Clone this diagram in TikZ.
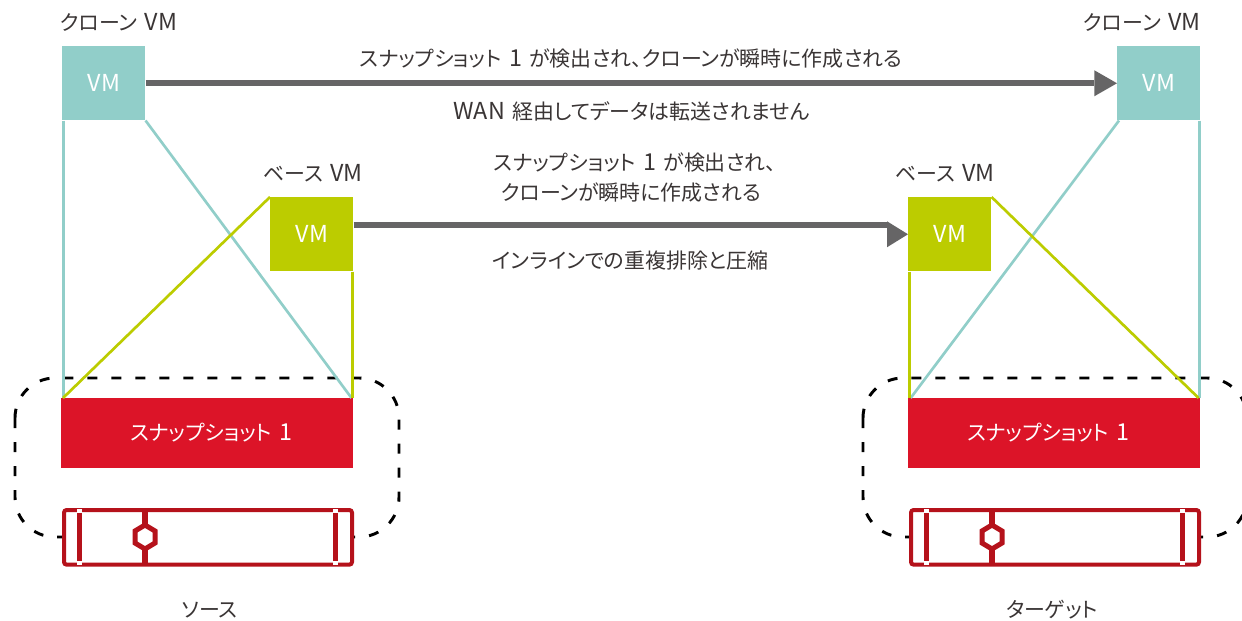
\documentclass[tikz,border=0pt]{standalone}
\usepackage{fontspec}
\setmainfont{Noto Sans CJK JP}[RawFeature=+palt]
\definecolor{teal}{HTML}{91CEC9}
\definecolor{lime}{HTML}{BCCC00}
\definecolor{snapred}{HTML}{DC1428}
\definecolor{darkred}{HTML}{B5121B}
\definecolor{arrowgray}{HTML}{666566}
\definecolor{ink}{HTML}{3A3535}
\newcommand{\lat}[1]{{\fontsize{17.5}{17.5}\selectfont #1}}
\newcommand{\sep}{\hspace{0.35em}}
\tikzset{
  label/.style={font=\fontsize{15.7}{15.7}\selectfont, text=ink, inner sep=0pt, align=center},
  vmbox/.style={minimum width=62.25pt, minimum height=55.5pt, inner sep=0pt, text=white, font=\fontsize{15.7}{15.7}\selectfont},
  snapbox/.style={fill=snapred, minimum width=219pt, minimum height=52pt, inner sep=0pt, text=white, font=\fontsize{15.7}{15.7}\selectfont},
  store/.style={draw=darkred, line width=3pt, fill=white, rounded corners=2pt, minimum width=216pt, minimum height=41pt, inner sep=0pt},
  tealline/.style={draw=teal, line width=2pt},
  limeline/.style={draw=lime, line width=2pt},
  shaft/.style={draw=arrowgray, line width=4.5pt},
  headtip/.style={fill=arrowgray},
  dashbox/.style={draw=black, line width=2.2pt, dash pattern=on 7.5pt off 10.5pt, rounded corners=30pt},
}
\newcommand{\storeicon}[1]{%
  \draw[darkred, line width=3.75pt] (#1.north west)++(17,2) -- ++(0,54);
  \draw[darkred, line width=3.75pt] (#1.north east)++(-19,2) -- ++(0,54);
  \draw[white, line width=3.75pt] (#1.north west)++(17,1) -- ++(0,4);
  \draw[white, line width=3.75pt] (#1.north west)++(17,53) -- ++(0,4);
  \draw[white, line width=3.75pt] (#1.north east)++(-19,1) -- ++(0,4);
  \draw[white, line width=3.75pt] (#1.north east)++(-19,53) -- ++(0,4);
  \draw[darkred, line width=4.5pt] (#1.north west)++(83,0) -- ++(0,58);
  \draw[darkred, line width=3.75pt, fill=white] (#1.north west)++(83,29)
    ++(0,-12) -- ++(10,6) -- ++(0,12) -- ++(-10,6) -- ++(-10,-6) -- ++(0,-12) -- cycle;
}
\begin{document}
\begin{tikzpicture}[x=0.75pt,y=-0.75pt]
\useasboundingbox (0,0) rectangle (1242,621);
% dashed frames
\draw[dashbox] (15,378) rectangle (399,537);
\draw[dashbox] (863,378) rectangle (1247,537);
% boxes
\node[vmbox, fill=teal, anchor=north west] (cl) at (62,46) {\lat{VM}};
\node[vmbox, fill=teal, anchor=north west] (cr) at (1117,46) {\lat{VM}};
\node[vmbox, fill=lime, anchor=north west] (bl) at (270,197) {\lat{VM}};
\node[vmbox, fill=lime, anchor=north west] (br) at (908,197) {\lat{VM}};
\node[snapbox, anchor=north west] (sl) at (61,398) {\hspace*{6pt}スナップショット\sep\lat{1}};
\node[snapbox, anchor=north west] (sr) at (908,398) {スナップショット\sep\lat{1}\hspace*{9pt}};
\node[store, anchor=north west] (dl) at (62,508) {};
\node[store, anchor=north west] (dr) at (909,508) {};
\storeicon{dl}
\storeicon{dr}
% fan lines
\draw[tealline] ([xshift=0.9pt]cl.south west) -- ([xshift=0.9pt]cl.south west |- sl.north);
\draw[tealline] (cl.south east) -- ([xshift=-1.5pt]sl.north east);
\draw[limeline] (bl.north west) -- ([xshift=1.5pt]sl.north west);
\draw[limeline] ([xshift=-1pt]bl.south east) -- ([xshift=-1pt]bl.south east |- sl.north);
\draw[tealline] ([xshift=-1pt]cr.south east) -- ([xshift=-1pt]cr.south east |- sr.north);
\draw[tealline] ([xshift=1.5pt]cr.south west) -- ([xshift=2pt]sr.north west);
\draw[limeline] ([xshift=1pt]br.south west) -- ([xshift=1pt]br.south west |- sr.north);
\draw[limeline] (br.north east) -- ([xshift=-1.5pt]sr.north east);
% arrows
\coordinate (ha) at ([xshift=-17pt]cr.west);
\draw[shaft] (cl.east) -- (ha);
\fill[headtip] (cr.west) -- ++(-17pt,-9.75pt) -- ++(0,19.5pt) -- cycle;
\coordinate (hb) at ([xshift=-15.75pt,yshift=6.75pt]br.west);
\coordinate (sb) at ([yshift=6.75pt]bl.east);
\draw[shaft] (sb) -- (hb);
\fill[headtip] (br.west) -- ++(-15.75pt,-9.75pt) -- ++(0,19.5pt) -- cycle;
% labels
\node[label] (t1) at (118.5,22) {クローン\sep\lat{VM}};
\node[label] (t2) at (1142,22) {クローン\sep\lat{VM}};
\node[label] (t3) at (313,173) {ベース\sep\lat{VM}};
\node[label] (t4) at (945,173) {ベース\sep\lat{VM}};
\node[label] (t5) at (631,59) {スナップショット\sep\lat{1}\sep が検出され、クローンが瞬時に作成される};
\node[label] (t6) at (631.5,111) {\lat{WAN}\sep 経由してデータは転送されません};
\node[label] (t7) at (635,163) {スナップショット\sep\lat{1}\sep が検出され、};
\node[label] (t8) at (631,193) {クローンが瞬時に作成される};
\node[label] (t9) at (630.5,261) {インラインでの重複排除と圧縮};
\node[label] (t10) at (210,610) {ソース};
\node[label] (t11) at (1052,610) {ターゲット};
\end{tikzpicture}
\end{document}
